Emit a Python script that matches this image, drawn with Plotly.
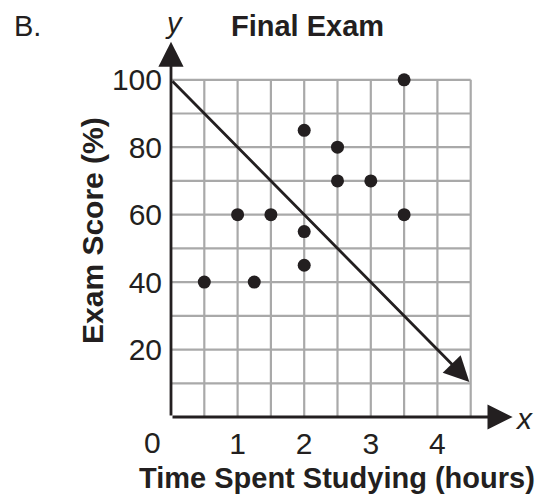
import plotly.graph_objects as go

# Data
hours = [0.5, 1, 1.25, 1.5, 2, 2, 2, 2.5, 2.5, 3, 3.5, 3.5]
scores = [40, 60, 40, 60, 85, 55, 45, 80, 70, 70, 100, 60]

# trend line (start, arrow tip)
line_x = [0, 4.48]
line_y = [100, 10.4]

# grid / ticks
x_grid = [0.5, 1, 1.5, 2, 2.5, 3, 3.5, 4, 4.5]
y_grid = [10, 20, 30, 40, 50, 60, 70, 80, 90, 100]
x_ticks = [1, 2, 3, 4]
y_ticks = [20, 40, 60, 80, 100]
x_max_grid = 4.5
y_max_grid = 100
x_axis_tip = 5.13
y_axis_tip = 111.3

FONT = "Liberation Sans, Arial, Helvetica, sans-serif"
INK = "#231f20"
GRID = "#a9a9a9"
FS = 30

OFF = 8  # page body margin
W, H = 546 - OFF, 500 - OFF
ml, mr, mt, mb = 171 - OFF, 32, 41 - OFF, 83
pw, ph = W - ml - mr, H - mt - mb

def px_to_paper(px, py):
    # window pixel coords -> paper coords
    return (px - OFF - ml) / pw, (H - mb - (py - OFF)) / ph

fig = go.Figure()

# grid lines
gx, gy = [], []
for xv in x_grid:
    gx += [xv, xv, None]
    gy += [0, y_max_grid, None]
for yv in y_grid:
    gx += [0, x_max_grid, None]
    gy += [yv, yv, None]
fig.add_trace(go.Scatter(x=gx, y=gy, mode="lines",
                         line=dict(color=GRID, width=2.2),
                         hoverinfo="skip", showlegend=False))

# data points
fig.add_trace(go.Scatter(x=hours, y=scores, mode="markers",
                         marker=dict(color=INK, size=13),
                         cliponaxis=False, showlegend=False))

arrow_common = dict(showarrow=True, arrowhead=2, arrowsize=1.8,
                    arrowwidth=2.8, arrowcolor=INK, text="",
                    axref="x", ayref="y", xref="x", yref="y", standoff=0)
bx, by = px_to_paper(27, 26)
tx, ty = px_to_paper(307, 26)
xtx, xty = px_to_paper(337, 478)
ytx, yty = px_to_paper(93, 231)
center = dict(xanchor="center", yanchor="middle", showarrow=False,
              xref="paper", yref="paper")
annotations = [
    # x axis
    dict(x=x_axis_tip, y=0, ax=0, ay=0, **arrow_common),
    # y axis
    dict(x=0, y=y_axis_tip, ax=0, ay=0, **arrow_common),
    # trend line
    dict(x=line_x[1], y=line_y[1], ax=line_x[0], ay=line_y[0], **arrow_common),
    # labels
    dict(x=0, y=0, xref="x", yref="y", text="0", showarrow=False,
         xshift=-19, yshift=-25, font=dict(family=FONT, size=FS, color=INK)),
    dict(x=x_axis_tip, y=0, xref="x", yref="y", text="<i>x</i>", showarrow=False,
         xanchor="left", xshift=0, yshift=-1, font=dict(family=FONT, size=FS, color=INK)),
    dict(x=0, y=y_axis_tip, xref="x", yref="y", text="<i>y</i>", showarrow=False,
         yanchor="bottom", xshift=3, yshift=1, font=dict(family=FONT, size=29, color=INK)),
    dict(x=bx, y=by, text="B.", font=dict(family=FONT, size=29, color=INK), **center),
    dict(x=tx, y=ty, text="<b>Final Exam</b>",
         font=dict(family=FONT, size=29, color=INK), **center),
    # axis titles
    dict(x=xtx, y=xty, text="<b>Time Spent Studying (hours)</b>",
         font=dict(family=FONT, size=29, color=INK), **center),
    dict(x=ytx, y=yty, textangle=-90, text="<b>Exam Score (%)</b>",
         font=dict(family=FONT, size=FS, color=INK), **center),
]

fig.update_layout(
    annotations=annotations,
    width=W, height=H,
    margin=dict(l=ml, r=mr, t=mt, b=mb),
    paper_bgcolor="white", plot_bgcolor="white",
    font=dict(family=FONT, size=FS, color=INK),
    showlegend=False,
    xaxis=dict(range=[0, x_axis_tip + 0.02], tickvals=x_ticks, showgrid=False,
               zeroline=False, showline=False, ticks="", ticklabelstandoff=6,
               automargin=False, fixedrange=True),
    yaxis=dict(range=[0, 111.5], tickvals=y_ticks, showgrid=False,
               zeroline=False, showline=False, ticks="", ticklabelstandoff=8,
               automargin=False, fixedrange=True),
)

fig.write_html("out.html")
